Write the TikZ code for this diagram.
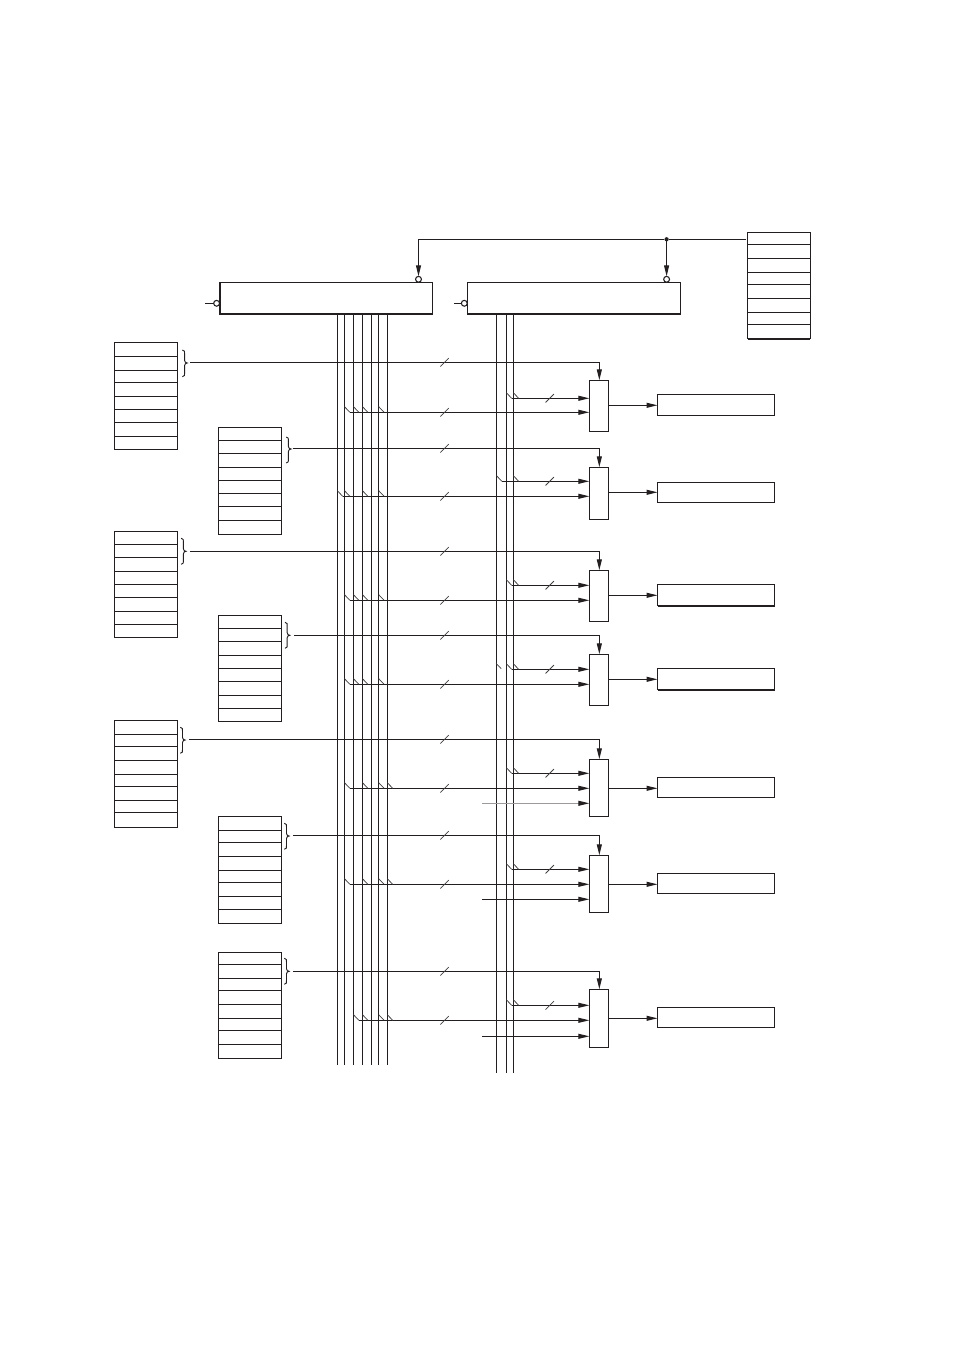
\documentclass[tikz,border=0pt]{standalone}
\usetikzlibrary{arrows.meta,calc}
\definecolor{ink}{HTML}{231F20}
\tikzset{
  x=0.75pt,y=-0.75pt,
  conn/.style={draw=ink,line width=0.8pt},
  arr/.style={conn,-{Triangle[length=8.2pt,width=3.7pt]}},
  boxn/.style={draw=ink,line width=0.8pt,rectangle,inner sep=0pt,outer sep=0pt,fill=white},
  thickedge/.style={draw=ink,line width=1.5pt},
  inner line/.style={draw=ink,line width=0.8pt},
  bubble/.style={draw=ink,line width=0.8pt,circle,inner sep=0pt,outer sep=0pt,minimum size=4.4pt,fill=white},
  slashmark/.style={draw=ink!85,line width=0.55pt},
  tapmark/.style={draw=ink!85,line width=0.55pt},
  bracemark/.style={draw=ink,line width=0.7pt},
  joint/.style={fill=ink,circle,inner sep=0pt,outer sep=0pt,minimum size=3.2pt},
}
% box by corners
\newcommand{\bxn}[5]{\node[boxn,minimum width={(#4-#2)*0.75pt},minimum height={(#5-#3)*0.75pt}] (#1) at ({(#2+#4)/2},{(#3+#5)/2}) {};}
% register: name, x1, x2, y1, y2, inner rows
\newcommand{\regbox}[6]{\bxn{#1}{#2}{#4}{#3}{#5}
  \foreach \yy in {#6}{\draw[inner line] (#2,\yy) -- (#3,\yy);}}
% right brace: x, y1, ymid, y2
\newcommand{\bracem}[4]{\draw[bracemark]
  (#1,#2) .. controls ({#1+2.5},#2) and ({#1+2.2},{#2+2}) .. ({#1+2.2},{#2+4})
  -- ({#1+2.2},{#3-2.5}) .. controls ({#1+2.2},{#3-1}) and ({#1+3.5},#3) .. ({#1+4.8},#3)
  .. controls ({#1+3.5},#3) and ({#1+2.2},{#3+1}) .. ({#1+2.2},{#3+2.5})
  -- ({#1+2.2},{#4-4}) .. controls ({#1+2.2},{#4-2}) and ({#1+2.5},#4) .. (#1,#4);}
% slash: cx, y
\newcommand{\slashm}[2]{\draw[slashmark] ({#1-4.2},{#2+4.2}) -- ({#1+4.2},{#2-4.2});}
% taps at y from bus x list
\newcommand{\taps}[2]{\foreach \xx in {#2}{\draw[tapmark] (\xx,{#1-5.6}) -- ({\xx+5.4},#1);}}
\begin{document}
\begin{tikzpicture}
\useasboundingbox[fill=white] (0,0) rectangle (954,1351);

% bus lines
\foreach \bx in {337.5,344.5,353.5,362.5,371.7,378.7,387.3}{\draw[conn] (\bx,314) -- (\bx,1064.7);}
\foreach \bx in {496.5,506.5,513.3}{\draw[conn] (\bx,314) -- (\bx,1072.7);}

% top blocks
\bxn{bufa}{219.5}{282.3}{432.7}{314.3}
\bxn{bufb}{467.2}{282.3}{680.5}{314.3}
\draw[thickedge] (bufa.north west) -- (bufa.south west) -- (bufa.south east);
\draw[thickedge] (bufb.south west) -- (bufb.south east);
\node[bubble] (bua) at (418.5,279.3) {};
\node[bubble] (bub) at (666.6,279.3) {};
\node[bubble] (bla) at (216.6,303.3) {};
\node[bubble] (blb) at (464.3,303.3) {};
\coordinate (sa) at (205,303.3);
\coordinate (sb) at (454,303.3);
\draw[conn] (sa) -- (bla);
\draw[conn] (sb) -- (blb);

% control register
\regbox{rc}{747.5}{810.3}{232.3}{338.6}{244.3,258.3,272.3,284.3,298.3,312.3,324.3}
\draw[thickedge] (rc.south west) -- (rc.south east);
\node[joint] (jn) at (666.6,239.3) {};
\coordinate (rcout) at (746,239.3);
\draw[conn] (rcout) -- (jn);
\draw[arr] (jn) -- (bub);
\draw[arr] (jn) -| (bua);

% registers
\regbox{ra}{114.4}{177.5}{342.3}{449.3}{356.3,370.3,382.3,396.3,409.3,422.3,436.3}
\regbox{rb}{218.5}{281.5}{427.3}{534.3}{440.3,453.3,467.3,480.3,493.3,506.3,520.3}
\regbox{rd}{114.4}{177.5}{531.3}{637.3}{544.3,557.3,571.3,584.3,597.3,611.3,624.3}
\regbox{re}{218.5}{281.5}{615.3}{721.3}{628.3,641.3,655.3,668.3,681.3,695.3,708.3}
\regbox{rf}{114.4}{177.5}{720.3}{827.3}{734.3,746.3,760.3,774.3,786.3,800.3,812.3}
\regbox{rg}{218.5}{281.5}{816.3}{923.3}{830.3,842.3,856.3,870.3,882.3,896.3,909.3}
\regbox{rh}{218.5}{281.5}{952.3}{1058.3}{964.3,978.3,990.3,1004.3,1018.3,1030.3,1044.3}

% braces
\bracem{182.4}{350}{363}{376.7}
\bracem{286.2}{437}{449}{463}
\bracem{181.2}{538.3}{551.3}{564.3}
\bracem{285}{622.3}{635.3}{648.3}
\bracem{180.3}{727.3}{740}{753.3}
\bracem{284.3}{823.3}{836}{849.3}
\bracem{284.3}{958.3}{971.3}{984.3}

% multiplexers
\bxn{ma}{589.3}{380.3}{608.3}{431.3}
\bxn{mb}{589.3}{467.3}{608.3}{519.3}
\bxn{mc}{589.3}{570.3}{608.3}{621.3}
\bxn{md}{589.3}{654.3}{608.3}{705.3}
\bxn{me}{589.3}{759.3}{608.3}{816.3}
\bxn{mf}{589.3}{855.3}{608.3}{912.3}
\bxn{mg}{589.3}{989.3}{608.3}{1047.3}

% output blocks
\bxn{oa}{657.5}{394.3}{774.5}{415.6}
\bxn{ob}{657.5}{482.3}{774.5}{502.6}
\bxn{oc}{657.5}{584.3}{774.5}{605.6}
\bxn{od}{657.5}{668.3}{774.5}{689.6}
\bxn{oe}{657.5}{777.3}{774.5}{797.6}
\bxn{of}{657.5}{873.3}{774.5}{893.6}
\bxn{og}{657.5}{1007.3}{774.5}{1027.6}
\draw[thickedge] (oc.south west) -- (oc.south east);
\draw[thickedge] (od.south west) -- (od.south east);

% mux outputs
\foreach \m/\o/\yy in {ma/oa/405.3,mb/ob/492.3,mc/oc/595.3,md/od/679.3,me/oe/788.3,mf/of/884.3,mg/og/1018.3}{
  \draw[arr] (\m.east |- 0,\yy) -- (\o.west |- 0,\yy);}

% select lines from braces
\foreach \c/\sx/\yy/\m in {ca/190/362.3/ma,cb/293.3/448.3/mb,cd/190/551.3/mc,ce/294/635.3/md,cf/189/739.3/me,cg/293/835.3/mf,ch/293/971.3/mg}{
  \coordinate (\c) at (\sx,\yy);
  \draw[arr] (\c) -| ([xshift=0.4pt]\m.north);
  \slashm{444.5}{\yy}
}

% lower bus inputs (start x, y, mux)
\foreach \c/\sx/\yy/\m in {da/350/412.3/ma,db/342.8/496.3/mb,dc/350/600.3/mc,dd/350/684.3/md,de/350/788.3/me,df/350/884.3/mf,dg/358.8/1020.3/mg}{
  \coordinate (\c) at (\sx,\yy);
  \draw[arr] (\c) -- (\m.west |- \c);
  \slashm{444.5}{\yy}
}
% upper bus inputs
\foreach \c/\sx/\yy/\m in {ea/511.8/398.3/ma,eb/501.8/481.3/mb,ec/511.8/585.3/mc,ed/511.8/669.3/md,ee/511.8/773.3/me,ef/511.8/869.3/mf,eg/511.8/1005.3/mg}{
  \coordinate (\c) at (\sx,\yy);
  \draw[arr] (\c) -- (\m.west |- \c);
  \slashm{549.7}{\yy}
}
% extra inputs
\coordinate (fe) at (482,803.3);
\coordinate (ff) at (482,899.3);
\coordinate (fg) at (482,1036.3);
\draw[conn,draw=ink!45] (fe) -- ([xshift=-7pt]me.west |- fe);
\draw[arr,draw=ink] ([xshift=-7.5pt]me.west |- fe) -- (me.west |- fe);
\draw[arr] (ff) -- (mf.west |- ff);
\draw[arr] (fg) -- (mg.west |- fg);

% tap marks
\taps{412.3}{344.5,353.5,362.5,378.7}
\taps{398.3}{506.3,513.3}
\taps{496.3}{337.3,344.5,362.5,378.7}
\taps{481.3}{496.5,513.3}
\taps{600.3}{344.5,353.5,362.5,378.7}
\taps{585.3}{506.3,513.3}
\taps{684.3}{344.5,353.5,362.5,378.7}
\taps{669.3}{506.3,513.3}
\draw[tapmark] (496.2,663.5) -- (501.2,668.7);
\taps{788.3}{344.5,362.5,378.7,387.3}
\taps{773.3}{506.3,513.3}
\taps{884.3}{344.5,362.5,378.7,387.3}
\taps{869.3}{506.3,513.3}
\taps{1020.3}{353.5,362.5,378.7,387.3}
\taps{1005.3}{506.3,513.3}
\end{tikzpicture}
\end{document}
